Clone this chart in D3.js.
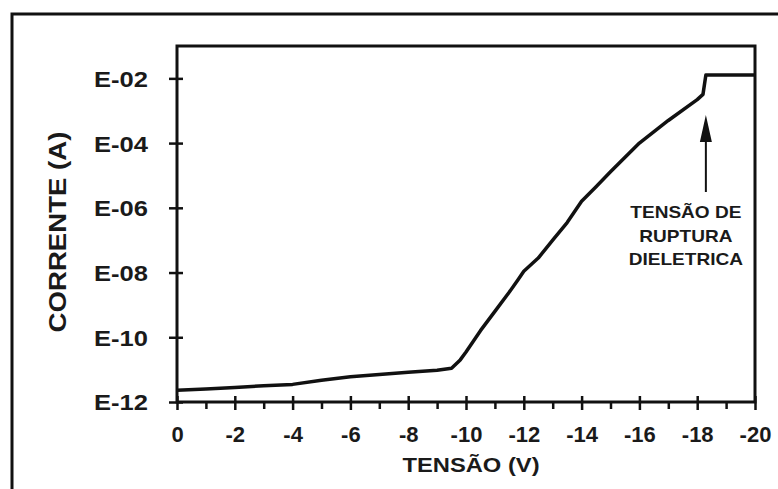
<!DOCTYPE html>
<html>
<head>
<meta charset="utf-8">
<script src="https://cdn.jsdelivr.net/npm/d3@7/dist/d3.min.js"></script>
<style>
  html, body { margin: 0; padding: 0; background: #fff; }
  svg { display: block; }
  text { font-family: "Liberation Sans", Arial, sans-serif; font-weight: bold; fill: #1a1a1a; }
</style>
</head>
<body>
<svg id="chart" width="778" height="489"></svg>
<script>
// ---- data ----
const voltage = [0, -1, -2, -3, -4, -5, -6, -7, -8, -9, -9.5, -9.8, -10, -10.5, -11, -11.5, -11.8, -12, -12.5, -13, -13.5, -14, -14.5, -15, -16, -17, -18, -18.2, -18.3, -18.4, -19, -20];
const current = [2.3e-12, 2.5e-12, 2.8e-12, 3.2e-12, 3.5e-12, 4.7e-12, 6.0e-12, 7.1e-12, 8.3e-12, 9.5e-12, 1.1e-11, 2.0e-11, 3.5e-11, 1.6e-10, 6.3e-10, 2.5e-9, 6.0e-9, 1.1e-8, 2.8e-8, 1.0e-7, 3.5e-7, 1.6e-6, 4.5e-6, 1.3e-5, 1.0e-4, 5.0e-4, 2.2e-3, 3.2e-3, 1.26e-2, 1.26e-2, 1.26e-2, 1.26e-2];

const yTickValues = [1e-2, 1e-4, 1e-6, 1e-8, 1e-10, 1e-12];
const yTickLabels = ["E-02", "E-04", "E-06", "E-08", "E-10", "E-12"];
const xTickValues = [0, -2, -4, -6, -8, -10, -12, -14, -16, -18, -20];
const xTickLabels = ["0", "-2", "-4", "-6", "-8", "-10", "-12", "-14", "-16", "-18", "-20"];
const xMinorTicks = [-1, -3, -5, -7, -9, -11, -13, -15, -17, -19];

const xTitle = "TENSÃO (V)";
const yTitle = "CORRENTE (A)";
const annotationLines = ["TENSÃO DE", "RUPTURA", "DIELETRICA"];
const breakdownVoltage = -18.3;

// ---- layout ----
const svg = d3.select("#chart");
const L = 177, R = 755, T = 46, B = 402;

const x = d3.scaleLinear().domain([0, -20]).range([L, R]);
const y = d3.scaleLog().domain([1e-12, 1e-1]).range([B, T]);

function stretch(sel, f) {
  sel.each(function () {
    const w = this.getComputedTextLength();
    d3.select(this).attr("textLength", w * f).attr("lengthAdjust", "spacingAndGlyphs");
  });
}

// outer frame (right and bottom edges fall outside the picture)
svg.append("rect").attr("x", 12).attr("y", 14).attr("width", 772).attr("height", 500)
  .attr("fill", "none").attr("stroke", "#111").attr("stroke-width", 3);

// plot frame
svg.append("rect").attr("x", L).attr("y", T).attr("width", R - L).attr("height", B - T)
  .attr("fill", "none").attr("stroke", "#111").attr("stroke-width", 3);

// x axis
const gx = svg.append("g").attr("transform", `translate(0,${B})`)
  .call(d3.axisBottom(x).tickValues(xTickValues).tickSize(8)
    .tickFormat((d, i) => xTickLabels[i]));
gx.select(".domain").remove();
gx.selectAll(".tick line").attr("y1", -6).attr("y2", 8).attr("stroke", "#111").attr("stroke-width", 2.5);
gx.selectAll(".tick text").attr("y", 40).attr("dy", 0).attr("font-size", 22)
  .attr("font-family", "Liberation Sans, Arial, sans-serif").attr("font-weight", "bold").attr("fill", "#1a1a1a");

const gxm = svg.append("g").attr("transform", `translate(0,${B})`)
  .call(d3.axisBottom(x).tickValues(xMinorTicks).tickSize(7).tickFormat(""));
gxm.select(".domain").remove();
gxm.selectAll(".tick line").attr("y1", 0).attr("y2", 7).attr("stroke", "#111").attr("stroke-width", 2.5);

// y axis
const gy = svg.append("g").attr("transform", `translate(${L},0)`)
  .call(d3.axisLeft(y).tickValues(yTickValues).tickSize(8)
    .tickFormat((d, i) => yTickLabels[i]));
gy.select(".domain").remove();
gy.selectAll(".tick line").attr("x1", 6).attr("x2", -8).attr("stroke", "#111").attr("stroke-width", 2.5);
const ytext = gy.selectAll(".tick text").attr("x", -29).attr("dy", "0.36em").attr("font-size", 22)
  .attr("font-family", "Liberation Sans, Arial, sans-serif").attr("font-weight", "bold").attr("fill", "#1a1a1a");
stretch(ytext, 1.16);

// axis titles
const xt = svg.append("text").attr("x", (L + R) / 2 + 5).attr("y", 472).attr("text-anchor", "middle")
  .attr("font-size", 21).text(xTitle);
stretch(xt, 1.13);

const yt = svg.append("text").attr("transform", `translate(66,${(T + B) / 2 + 8}) rotate(-90)`)
  .attr("text-anchor", "middle").attr("font-size", 23).text(yTitle);
stretch(yt, 1.2);

// data line
const line = d3.line().x((d, i) => x(voltage[i])).y(d => y(d));
svg.append("path").datum(current).attr("d", line)
  .attr("fill", "none").attr("stroke", "#111").attr("stroke-width", 3.5)
  .attr("stroke-linejoin", "round").attr("stroke-linecap", "butt");

// annotation arrow
const ax = x(breakdownVoltage);
svg.append("line").attr("x1", ax).attr("x2", ax).attr("y1", 192).attr("y2", 138)
  .attr("stroke", "#111").attr("stroke-width", 2);
svg.append("path").attr("d", `M${ax},115 L${ax - 6},142 L${ax + 6},142 Z`).attr("fill", "#111");

const at = svg.append("g").selectAll("text").data(annotationLines).join("text")
  .attr("x", ax - 20).attr("y", (d, i) => 218 + i * 23.5).attr("text-anchor", "middle")
  .attr("font-size", 17).text(d => d);
stretch(at, 1.12);
</script>
</body>
</html>
